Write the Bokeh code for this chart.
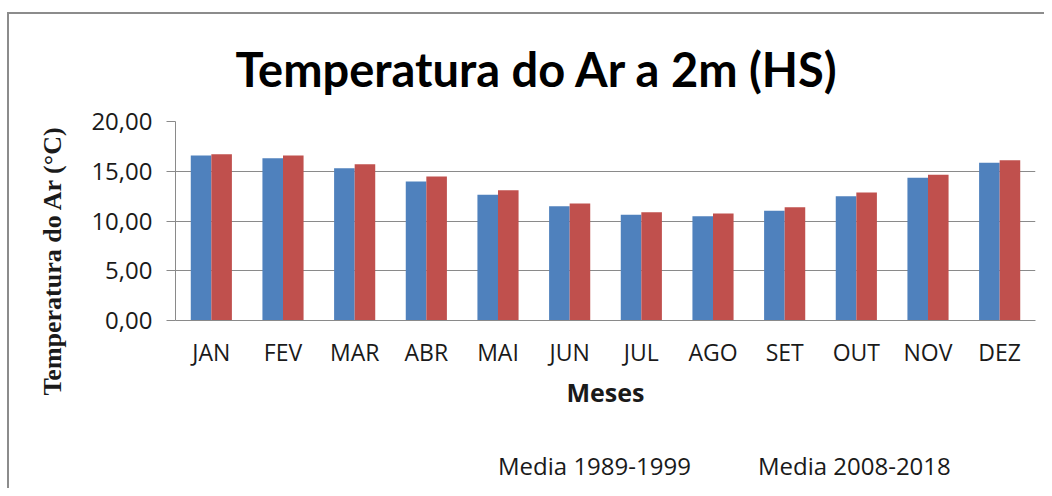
from bokeh.plotting import figure
from bokeh.layouts import column
from bokeh.models import ColumnDataSource, FixedTicker, Legend, LegendItem, Title, Range1d
from bokeh.transform import dodge
from bokeh.embed import file_html
from bokeh.resources import INLINE

months = ["JAN", "FEV", "MAR", "ABR", "MAI", "JUN", "JUL", "AGO", "SET", "OUT", "NOV", "DEZ"]
media_1989_1999 = [16.58, 16.30, 15.30, 13.97, 12.63, 11.49, 10.62, 10.48, 11.02, 12.50, 14.34, 15.85]
media_2008_2018 = [16.70, 16.58, 15.70, 14.47, 13.10, 11.76, 10.89, 10.75, 11.39, 12.86, 14.64, 16.11]
y_ticks = [0, 5, 10, 15, 20]
y_tick_labels = ["0,00", "5,00", "10,00", "15,00", "20,00"]
series_names = ["Media 1989-1999", "Media 2008-2018"]
title_text = "Temperatura do Ar a 2m (HS)"
x_title = "Meses"
y_title = "Temperatura do Ar (°C)"

BLUE = "#4F81BD"
RED = "#C0504D"
GRID = "#8a8a8a"
TXT = "#1a1a1a"

src = ColumnDataSource(dict(m=months, a=media_1989_1999, b=media_2008_2018))

p = figure(x_range=months, y_range=Range1d(0, 20), frame_width=860, frame_height=199,
           min_border_left=175, min_border_right=9, min_border_top=121, min_border_bottom=120,
           output_backend="svg", toolbar_location=None)

bw = 0.287
r1 = p.vbar(x=dodge("m", -bw / 2, range=p.x_range), top="a", width=bw, source=src,
            fill_color=BLUE, line_color=None)
r2 = p.vbar(x=dodge("m", bw / 2, range=p.x_range), top="b", width=bw, source=src,
            fill_color=RED, line_color=None)

p.outline_line_color = None
p.border_fill_alpha = 0
p.background_fill_color = "white"
p.xgrid.grid_line_color = None
p.ygrid.grid_line_color = GRID
p.ygrid.grid_line_width = 1

p.yaxis.ticker = FixedTicker(ticks=y_ticks)
p.yaxis.major_label_overrides = {t: l for t, l in zip(y_ticks, y_tick_labels)}
p.yaxis.axis_line_color = GRID
p.yaxis.major_tick_line_color = GRID
p.yaxis.major_tick_out = 9
p.yaxis.major_tick_in = 0
p.yaxis.minor_tick_line_color = None
p.yaxis.major_label_text_font = "Open Sans"
p.yaxis.major_label_text_font_size = "24px"
p.yaxis.major_label_text_color = TXT
p.yaxis.major_label_standoff = 14

p.xaxis.axis_line_color = GRID
p.xaxis.major_tick_line_color = None
p.xaxis.minor_tick_line_color = None
p.xaxis.major_label_text_font = "Open Sans"
p.xaxis.major_label_text_font_size = "23px"
p.xaxis.major_label_text_color = TXT
p.xaxis.major_label_standoff = 9
p.xaxis.axis_label = x_title
p.xaxis.axis_label_text_font = "Open Sans"
p.xaxis.axis_label_text_font_style = "bold"
p.xaxis.axis_label_text_font_size = "25px"
p.xaxis.axis_label_text_color = TXT
p.xaxis.axis_label_standoff = 4

t = Title(text=title_text, align="left", offset=60, text_font="Lato",
          text_font_style="bold", text_font_size="47px", text_color="#000000", standoff=50)
p.add_layout(t, "above")

yt = Title(text=y_title, align="right", offset=4, text_font="Liberation Serif",
           text_font_style="bold", text_font_size="26px", text_color=TXT, standoff=44)
p.add_layout(yt, "left")

# legend strip below the chart
lf = figure(width=1044, height=48, x_range=(0, 1), y_range=(0, 1), min_border=0,
            x_axis_location=None, y_axis_location=None,
            output_backend="svg", toolbar_location=None)
lf.outline_line_color = None
lf.grid.grid_line_color = None
lf.border_fill_alpha = 0
lf.background_fill_alpha = 0
empty = ColumnDataSource(dict(x=[], top=[]))
l1 = lf.vbar(x="x", top="top", width=0.1, source=empty, fill_color=BLUE, line_color=None)
l2 = lf.vbar(x="x", top="top", width=0.1, source=empty, fill_color=RED, line_color=None)

legend = Legend(items=[LegendItem(label=series_names[0], renderers=[l1]),
                       LegendItem(label=series_names[1], renderers=[l2])],
                orientation="horizontal", location=(302, 6),
                glyph_width=14, glyph_height=14, label_standoff=7, spacing=46,
                label_text_font="Open Sans", label_text_font_size="24px", label_text_color=TXT,
                border_line_color=None, background_fill_alpha=0, padding=0, margin=0)
lf.add_layout(legend, "center")

layout = column(p, lf, spacing=0)
layout.styles = {"background": "linear-gradient(#8c8c8c, #8c8c8c) 7px 12px / 2px 100% no-repeat, "
                               "linear-gradient(#8c8c8c, #8c8c8c) 7px 12px / 100% 2px no-repeat, #ffffff"}

open("out.html", "w").write(file_html(layout, INLINE))
